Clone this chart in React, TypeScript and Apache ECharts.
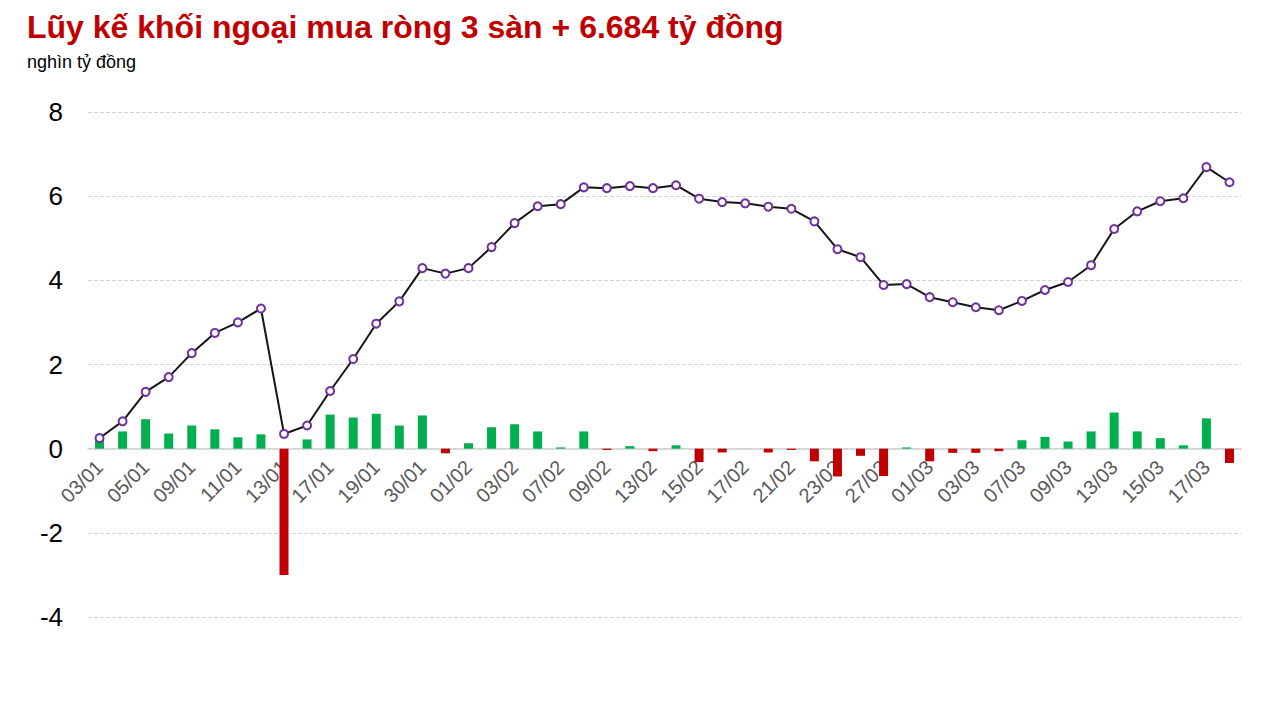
import * as echarts from 'echarts';
import { useEffect, useRef } from 'react';

const dates = [
  '03/01', '04/01', '05/01', '06/01', '09/01', '10/01', '11/01', '12/01', '13/01', '16/01',
  '17/01', '18/01', '19/01', '27/01', '30/01', '31/01', '01/02', '02/02', '03/02', '06/02',
  '07/02', '08/02', '09/02', '10/02', '13/02', '14/02', '15/02', '16/02', '17/02', '20/02',
  '21/02', '22/02', '23/02', '24/02', '27/02', '28/02', '01/03', '02/03', '03/03', '06/03',
  '07/03', '08/03', '09/03', '10/03', '13/03', '14/03', '15/03', '16/03', '17/03', '20/03',
];

// giá trị mua/bán ròng từng phiên (nghìn tỷ đồng)
const dailyNet = [
  0.24, 0.41, 0.7, 0.36, 0.55, 0.46, 0.27, 0.34, -3.0, 0.22,
  0.81, 0.74, 0.83, 0.55, 0.79, -0.11, 0.13, 0.51, 0.58, 0.41,
  0.03, 0.41, -0.03, 0.06, -0.06, 0.08, -0.32, -0.09, 0, -0.09,
  -0.03, -0.3, -0.66, -0.17, -0.65, 0.03, -0.3, -0.1, -0.1, -0.06,
  0.2, 0.28, 0.17, 0.41, 0.86, 0.41, 0.25, 0.08, 0.72, -0.34,
];

// lũy kế
const cumulative = [
  0.25, 0.65, 1.35, 1.7, 2.27, 2.75, 3.0, 3.33, 0.35, 0.55,
  1.37, 2.13, 2.97, 3.5, 4.29, 4.16, 4.29, 4.79, 5.36, 5.76,
  5.81, 6.21, 6.19, 6.24, 6.19, 6.26, 5.94, 5.86, 5.83, 5.75,
  5.7, 5.4, 4.74, 4.55, 3.89, 3.91, 3.6, 3.48, 3.36, 3.29,
  3.51, 3.77, 3.96, 4.36, 5.22, 5.64, 5.88, 5.95, 6.69, 6.33,
];

const yTicks = [-4, -2, 0, 2, 4, 6, 8];

const FONT = '"Liberation Sans", Arial, sans-serif';

const GRID_TOP = 112;
const GRID_BOTTOM = 103;
const CHART_H = 720;

function App() {
  const chartRef = useRef<HTMLDivElement>(null);

  useEffect(() => {
    const myChart = echarts.init(chartRef.current, null, { renderer: 'svg' });

    const yMin = yTicks[0];
    const yMax = yTicks[yTicks.length - 1];
    const gridH = CHART_H - GRID_TOP - GRID_BOTTOM;
    // đặt trục x (cả nhãn) tại mức 0
    const xOffset = -gridH * (0 - yMin) / (yMax - yMin);

    const option = {
      animation: false,
      textStyle: { fontFamily: FONT },
      title: {
        text: 'Lũy kế khối ngoại mua ròng 3 sàn + 6.684 tỷ đồng',
        subtext: 'nghìn tỷ đồng',
        left: 22,
        top: 6,
        itemGap: 10,
        textStyle: {
          color: '#c00000',
          fontSize: 32,
          fontWeight: 'bold',
          fontFamily: FONT,
        },
        subtextStyle: {
          color: '#000',
          fontSize: 18,
          fontFamily: FONT,
        },
      },
      grid: {
        left: 88,
        right: 39,
        top: GRID_TOP,
        bottom: GRID_BOTTOM,
        containLabel: false,
      },
      xAxis: {
        type: 'category',
        data: dates,
        boundaryGap: true,
        offset: xOffset,
        axisLine: { show: true, onZero: false, lineStyle: { color: '#d0d0d0', width: 1.5 } },
        axisTick: { show: false },
        axisLabel: {
          interval: 1,
          rotate: 45,
          color: '#595959',
          fontSize: 20,
          margin: 15,
          fontFamily: FONT,
        },
      },
      yAxis: {
        type: 'value',
        min: yMin,
        max: yMax,
        interval: 2,
        axisLine: { show: false },
        axisTick: { show: false },
        axisLabel: {
          color: '#000',
          fontSize: 26,
          margin: 25,
          fontFamily: FONT,
        },
        splitLine: {
          lineStyle: { color: '#d4d4d4', type: 'dashed', width: 1 },
        },
      },
      series: [
        {
          name: 'Mua ròng',
          type: 'bar',
          barWidth: 9,
          z: 1,
          data: dailyNet.map((v) => ({
            value: v,
            itemStyle: { color: v >= 0 ? '#00b050' : '#c00000' },
          })),
        },
        {
          name: 'Lũy kế',
          type: 'line',
          z: 3,
          symbol: 'emptyCircle',
          symbolSize: 8,
          lineStyle: { color: '#151515', width: 2 },
          itemStyle: { color: '#7030a0', borderColor: '#7030a0', borderWidth: 1.6 },
          data: cumulative,
        },
      ],
    };

    myChart.setOption(option);

    return () => {
      myChart.dispose();
    };
  }, []);

  return (
    <div
      ref={chartRef}
      style={{ position: 'fixed', left: 0, top: 0, width: '1280px', height: '720px', background: '#fff' }}
    ></div>
  );
}

export default App;
